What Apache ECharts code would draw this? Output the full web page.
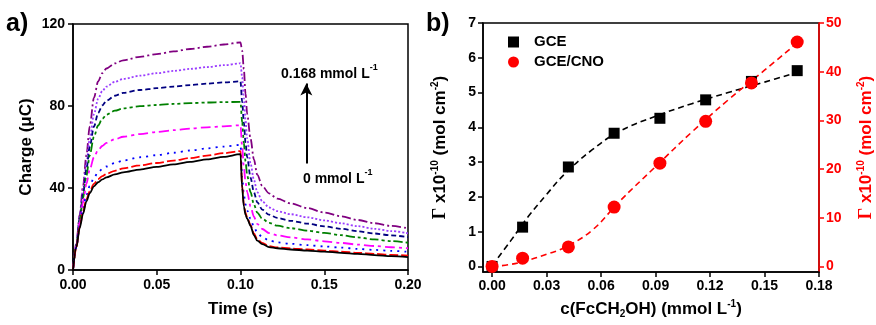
<!DOCTYPE html>
<html><head><meta charset="utf-8">
<script src="https://cdn.jsdelivr.net/npm/echarts@6/dist/echarts.min.js"></script>
<style>html,body{margin:0;padding:0;background:#fff}#c{width:876px;height:325px}</style>
</head><body><div id="c"></div>
<script>
// ---------- Panel a: charge vs time ----------
const timeS = [0, 0.002, 0.004, 0.006, 0.008, 0.01, 0.0125, 0.015, 0.0175, 0.02, 0.025, 0.03, 0.04, 0.05, 0.06, 0.07, 0.08, 0.09, 0.1,
               0.101, 0.102, 0.103, 0.104, 0.106, 0.108, 0.11, 0.113, 0.117, 0.122, 0.13, 0.14, 0.15, 0.16, 0.17, 0.18, 0.19, 0.2];
const conc0 = [0, 11, 20.5, 27.5, 33.5, 37.5, 40.8, 42.8, 44.2, 45.2, 46.6, 47.6, 49, 50.3, 51.5, 52.7, 54, 55.2, 56.5,
               40, 31, 27, 25, 21.5, 17, 14.3, 12.6, 11.2, 10.6, 10.0, 9.5, 9.0, 8.4, 7.9, 7.3, 6.8, 6.3];
const conc1 = [0, 11, 21, 28.5, 34.5, 38.5, 42, 44.3, 45.8, 46.9, 48.4, 49.6, 51, 52.2, 53.4, 54.6, 55.8, 57, 58,
               41, 32, 28, 25.5, 22, 17.8, 15, 13.2, 11.6, 11.0, 10.5, 10.0, 9.5, 8.9, 8.4, 7.9, 7.4, 7.0];
const conc2 = [0, 11, 21.5, 30, 36.5, 41, 45, 47.7, 49.3, 50.5, 52.2, 53.4, 55, 56, 57.2, 58.3, 59.3, 60.2, 61,
               45, 37, 32, 29, 25, 21, 18.3, 16, 14.4, 13.5, 12.8, 12.1, 11.5, 10.9, 10.3, 9.8, 9.3, 8.9];
const conc3 = [0, 11.5, 23, 33, 42, 49, 55, 58.5, 60.5, 62, 63.8, 65, 66.3, 67.3, 68.2, 69, 69.6, 70.1, 70.6,
               60, 50, 43, 38, 31, 26, 22.5, 20, 18, 16.9, 15.9, 14.9, 14.0, 13.2, 12.4, 11.7, 11.1, 10.6];
const conc4 = [0, 12, 24, 35, 46, 56, 65, 70.5, 73.8, 75.8, 77.7, 78.8, 79.9, 80.5, 81, 81.4, 81.7, 81.9, 82,
               72, 62, 53, 46, 38, 32, 28, 25, 23, 21.6, 20.4, 19.2, 18.1, 17.0, 15.9, 14.9, 14.1, 13.3];
const conc5 = [0, 12, 25, 37, 49, 60, 70, 76.5, 80.3, 82.6, 85, 86.4, 87.8, 88.7, 89.5, 90.2, 90.9, 91.5, 92,
               82, 72, 62, 55, 45, 38, 33, 29.5, 27, 25.4, 24, 22.6, 21.3, 20.1, 18.9, 17.8, 16.9, 16.0];
const conc6 = [0, 12.5, 26, 39, 52, 64, 76, 83.5, 87.3, 89.5, 91.8, 93.2, 94.8, 96, 97.1, 98.1, 99, 99.9, 100.8,
               94, 84, 73, 64, 52, 44, 38, 33.5, 30.5, 28.7, 27.2, 25.7, 24.2, 22.8, 21.4, 20.1, 19, 17.9];
const conc7 = [0, 13, 27, 41, 56, 70, 84, 92, 96, 98.3, 100.8, 102.3, 104, 105.3, 106.6, 107.8, 108.9, 110, 111,
               107, 98, 86, 76, 64, 54, 46.5, 41, 37.4, 34.8, 32.5, 30.2, 28, 26.2, 24.4, 22.8, 21.5, 20.3];
const curveNames = ['0', '0.0168', '0.042', '0.0672', '0.0924', '0.1176', '0.1428', '0.168'];

// ---------- Panel b: surface coverage vs concentration ----------
const concB = [0, 0.0168, 0.042, 0.0672, 0.0924, 0.1176, 0.1428, 0.168];
const gammaGCE = [0, 1.13, 2.86, 3.83, 4.26, 4.79, 5.32, 5.63];
const gammaCNO = [0, 1.7, 4.0, 12.2, 21.2, 29.8, 37.7, 46.1];
const fitX      = [0, 0.01, 0.02, 0.03, 0.04, 0.055, 0.07, 0.09, 0.11, 0.13, 0.15, 0.168];
const fitGCE    = [0.02, 0.72, 1.44, 2.07, 2.66, 3.35, 3.88, 4.32, 4.68, 5.0, 5.3, 5.58];
const fitCNO    = [0, 0.4, 1.3, 2.5, 3.9, 7.4, 13.3, 20.5, 27.6, 34.2, 40.3, 45.9];
const concTicks = [0, 0.03, 0.06, 0.09, 0.12, 0.15, 0.18];
const gammaTicksL = [0, 1, 2, 3, 4, 5, 6, 7];
const gammaTicksR = [0, 10, 20, 30, 40, 50];

const FONT = '"Liberation Sans", Arial, sans-serif';
const zip = (a, b) => a.map((v, i) => [v, b[i]]);

const curves = [conc0, conc1, conc2, conc3, conc4, conc5, conc6, conc7];
const colors = ['#000000', '#ff0000', '#0000ff', '#ff00ff', '#008000', '#000080', '#9a3cff', '#800080'];
const dashes = ['solid', [9, 3], [2, 5], [10, 4, 3, 4], [9, 3, 3, 3, 3, 3], [5, 3], [2, 2], [9, 3, 2, 3]];

const labelStyle = (color) => ({ fontSize: 14, fontWeight: 'bold', color: color, fontFamily: FONT });
const supR = {
  n: { fontSize: 17, fontWeight: 'bold', fontFamily: FONT },
  g: { fontSize: 18, fontFamily: '"Liberation Serif", serif' },
  sup: { fontSize: 10, fontWeight: 'bold', fontFamily: FONT, verticalAlign: 'top', lineHeight: 20 },
  sub: { fontSize: 10, fontWeight: 'bold', fontFamily: FONT, verticalAlign: 'bottom', lineHeight: 20 }
};
function richFor(color) {
  const r = {};
  for (const k in supR) r[k] = Object.assign({}, supR[k], { color: color });
  return r;
}

function valAxis(opts) {
  const color = opts.color || '#000';
  const ax = {
    type: 'value', gridIndex: opts.grid, min: opts.min, max: opts.max,
    position: opts.position,
    axisLine: { show: true, onZero: false, lineStyle: { color: color, width: 1.5 } },
    axisTick: { show: true, inside: false, length: 5, lineStyle: { color: color, width: 1.5 } },
    axisLabel: Object.assign(labelStyle(color), { margin: opts.margin, formatter: opts.fmt }),
    splitLine: { show: false },
    name: opts.name, nameLocation: 'middle', nameGap: opts.nameGap,
    nameTextStyle: { color: color, fontSize: 17, fontWeight: 'bold', fontFamily: FONT, rich: richFor(color) }
  };
  if (opts.interval) ax.interval = opts.interval;
  if (opts.custom) { ax.axisTick.customValues = opts.custom; ax.axisLabel.customValues = opts.custom; }
  return ax;
}

const series = curves.map((c, i) => ({
  name: curveNames[i], type: 'line', xAxisIndex: 0, yAxisIndex: 0,
  data: zip(timeS, c), showSymbol: false, smooth: 0.3, smoothMonotone: 'x',
  lineStyle: { color: colors[i], width: 1.8, type: dashes[i] }, z: 10 - i
}));
series[0].markLine = {
  silent: true, symbol: ['none', 'arrow'], symbolSize: [9, 12],
  lineStyle: { color: '#000', width: 2, type: 'solid' }, label: { show: false },
  data: [[{ coord: [0.1393, 52] }, { coord: [0.1393, 91] }]]
};

series.push(
  { name: 'fitGCE', type: 'line', xAxisIndex: 1, yAxisIndex: 1, data: zip(fitX, fitGCE), showSymbol: false, smooth: 0.4,
    lineStyle: { color: '#000', width: 1.6, type: [6, 4] } },
  { name: 'fitCNO', type: 'line', xAxisIndex: 1, yAxisIndex: 2, data: zip(fitX, fitCNO), showSymbol: false, smooth: 0.4,
    lineStyle: { color: '#ff0000', width: 1.6, type: [6, 4] } },
  { name: 'GCE', type: 'scatter', xAxisIndex: 1, yAxisIndex: 1, data: zip(concB, gammaGCE), symbol: 'rect', symbolSize: 11,
    itemStyle: { color: '#000', opacity: 1 }, z: 5 },
  { name: 'GCE/CNO', type: 'scatter', xAxisIndex: 1, yAxisIndex: 2, data: zip(concB, gammaCNO), symbol: 'circle', symbolSize: 13,
    itemStyle: { color: '#ff0000', opacity: 1 }, z: 5 }
);

const supText = {
  n: { fontSize: 14, fontWeight: 'bold', fontFamily: FONT, fill: '#000', lineHeight: 18, verticalAlign: 'bottom' },
  s: { fontSize: 9, fontWeight: 'bold', fontFamily: FONT, fill: '#000', lineHeight: 18, verticalAlign: 'top' }
};

const option = {
  backgroundColor: '#fff',
  animation: false,
  grid: [
    { left: 73, top: 24, width: 335, height: 246, show: true, borderColor: '#000', borderWidth: 1.5, backgroundColor: 'transparent' },
    { left: 483, top: 23, width: 338, height: 249, show: true, borderColor: '#000', borderWidth: 1.5, backgroundColor: 'transparent' }
  ],
  xAxis: [
    valAxis({ grid: 0, min: 0, max: 0.2, interval: 0.05, margin: 8, fmt: v => v.toFixed(2), name: 'Time (s)', nameGap: 31 }),
    valAxis({ grid: 1, min: -0.005, max: 0.18, custom: concTicks, margin: 7, fmt: v => v.toFixed(2),
      name: '{n|c(FcCH}{sub|2}{n|OH) (mmol L}{sup|-1}{n|)}', nameGap: 27 })
  ],
  yAxis: [
    valAxis({ grid: 0, min: 0, max: 120, interval: 40, margin: 8, fmt: v => String(v), name: 'Charge (\u03bcC)', nameGap: 38 }),
    valAxis({ grid: 1, min: -0.16, max: 7, custom: gammaTicksL, margin: 7, fmt: v => String(v),
      name: '{g|\u0393}{n| x10}{sup|-10}{n| (mol cm}{sup|-2}{n|)}', nameGap: 33 }),
    valAxis({ grid: 1, min: -1.143, max: 50, custom: gammaTicksR, margin: 7, fmt: v => String(v), position: 'right', color: '#ff0000',
      name: '{g|\u0393}{n| x10}{sup|-10}{n| (mol cm}{sup|-2}{n|)}', nameGap: 37 })
  ],
  legend: {
    left: 503, top: 29, orient: 'vertical', itemGap: 4, itemWidth: 11, itemHeight: 11,
    itemStyle: { opacity: 1 },
    textStyle: { fontSize: 15, fontWeight: 'bold', fontFamily: FONT, color: '#000', padding: [0, 0, 0, 10], lineHeight: 16 },
    data: [{ name: 'GCE', icon: 'rect' }, { name: 'GCE/CNO', icon: 'circle' }]
  },
  graphic: [
    { type: 'text', left: 6, top: 12, style: { text: 'a)', font: 'bold 25px ' + FONT, fill: '#000' } },
    { type: 'text', left: 426, top: 12, style: { text: 'b)', font: 'bold 25px ' + FONT, fill: '#000' } },
    { type: 'text', left: 281, top: 63, style: { text: '{n|0.168 mmol L}{s|-1}', rich: supText } },
    { type: 'text', left: 303, top: 168, style: { text: '{n|0 mmol L}{s|-1}', rich: supText } }
  ],
  series: series
};
const chart = echarts.init(document.getElementById('c'), null, { renderer: 'canvas' });
chart.setOption(option);
</script></body></html>
